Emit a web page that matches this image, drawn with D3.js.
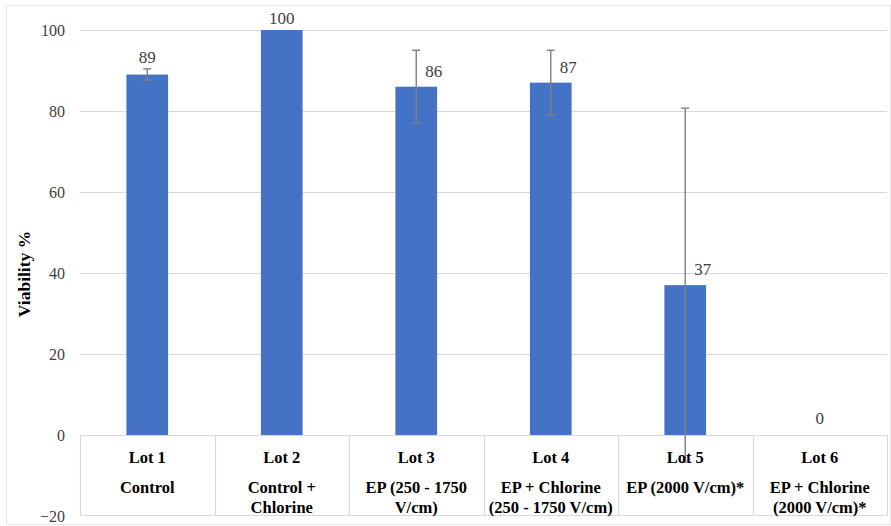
<!DOCTYPE html>
<html>
<head>
<meta charset="utf-8">
<script src="https://cdn.jsdelivr.net/npm/d3@7/dist/d3.min.js"></script>
<style>
  html, body { margin: 0; padding: 0; background: #fff; }
  svg { display: block; }
  svg text { font-family: "Liberation Serif", "Times New Roman", Tinos, "DejaVu Serif", serif; }
</style>
</head>
<body>
<svg id="chart" width="891" height="526"></svg>
<script>
const lots = ["Lot 1", "Lot 2", "Lot 3", "Lot 4", "Lot 5", "Lot 6"];
const descriptions = [
  ["Control"],
  ["Control +", "Chlorine"],
  ["EP (250 - 1750", "V/cm)"],
  ["EP + Chlorine", "(250 - 1750 V/cm)"],
  ["EP (2000 V/cm)*"],
  ["EP + Chlorine", "(2000 V/cm)*"]
];
const viability = [89, 100, 86, 87, 37, 0];
const errors = [1.4, 0, 9, 8, 43.7, 0];
const yTicks = [-20, 0, 20, 40, 60, 80, 100];

(function () {
const svg = d3.select("#chart");
const W = 891, H = 526;
const mLeft = 80, mRight = 887, mTop = 30, mBottom = 516;

svg.append("rect").attr("x", 0).attr("y", 0).attr("width", W).attr("height", H).attr("fill", "#fff");
svg.append("rect").attr("x", 6.5).attr("y", 5.5).attr("width", 884).attr("height", 519)
  .attr("fill", "none").attr("stroke", "#e6e6e6").attr("stroke-width", 1);

const x = d3.scaleBand().domain(lots).range([mLeft, mRight]).paddingInner(0).paddingOuter(0);
const y = d3.scaleLinear().domain([-20, 100]).range([mBottom, mTop]);

// gridlines
svg.append("g").selectAll("line").data(yTicks.filter(t => t > 0)).join("line")
  .attr("x1", mLeft).attr("x2", mRight)
  .attr("y1", d => Math.round(y(d)) + 0.5).attr("y2", d => Math.round(y(d)) + 0.5)
  .attr("stroke", "#d9d9d9").attr("stroke-width", 1.2);

// y axis tick labels
const yAxis = d3.axisLeft(y).tickValues(yTicks).tickSize(0).tickPadding(15).tickFormat(d3.format("d"));
const gy = svg.append("g").attr("transform", `translate(${mLeft},0)`).call(yAxis);
gy.attr("font-family", null);
gy.select(".domain").remove();
gy.selectAll("text").style("font-size", "16px").attr("fill", "#404040");

// y axis title
svg.append("text")
  .attr("transform", `translate(24,${(y(100) + y(-20)) / 2 + 1}) rotate(-90)`)
  .attr("text-anchor", "middle").attr("dominant-baseline", "central")
  .style("font-weight", "bold").style("font-size", "17.5px")
  .attr("fill", "#000").text("Viability %");

// bars
const bw = x.bandwidth() * 0.31;
svg.append("g").selectAll("rect").data(lots).join("rect")
  .attr("x", (d) => x(d) + (x.bandwidth() - bw) / 2)
  .attr("width", bw)
  .attr("y", (d, i) => y(viability[i]))
  .attr("height", (d, i) => y(0) - y(viability[i]))
  .attr("fill", "#4472C4");

// data table lines
const tg = svg.append("g").attr("stroke", "#d9d9d9").attr("stroke-width", 1.2);
tg.append("line").attr("x1", mLeft).attr("x2", mRight).attr("y1", y(0) + 0.5).attr("y2", y(0) + 0.5);
tg.append("line").attr("x1", mLeft).attr("x2", mRight).attr("y1", y(-20) - 0.5).attr("y2", y(-20) - 0.5);
const bounds = lots.map(d => x(d)).concat([mRight]);
tg.selectAll("line.v").data(bounds).join("line").attr("class", "v")
  .attr("x1", d => Math.round(d) + 0.5).attr("x2", d => Math.round(d) + 0.5)
  .attr("y1", y(0)).attr("y2", y(-20));

// error bars
const cap = 4;
const eg = svg.append("g").attr("stroke", "#808080").attr("stroke-width", 1.4);
lots.forEach((d, i) => {
  if (!errors[i]) return;
  const cx = x(d) + x.bandwidth() / 2;
  const y1 = y(viability[i] + errors[i]);
  const y2 = y(viability[i] - errors[i]);
  eg.append("line").attr("x1", cx).attr("x2", cx).attr("y1", y1).attr("y2", y2);
  eg.append("line").attr("x1", cx - cap).attr("x2", cx + cap).attr("y1", y1).attr("y2", y1);
  eg.append("line").attr("x1", cx - cap).attr("x2", cx + cap).attr("y1", y2).attr("y2", y2);
});

// data labels
svg.append("g").selectAll("text").data(lots).join("text")
  .style("font-size", "17px").attr("fill", "#404040")
  .attr("dy", "0.35em")
  .each(function (d, i) {
    const cx = x(d) + x.bandwidth() / 2;
    const el = d3.select(this);
    if (errors[i] > 5) {
      el.attr("x", cx + 9).attr("y", y(viability[i]) - 16).attr("text-anchor", "start");
    } else {
      const t = Math.min(y(viability[i]), y(viability[i] + errors[i]));
      el.attr("x", cx).attr("y", t - (viability[i] === 0 ? 17 : 12)).attr("text-anchor", "middle");
    }
  })
  .text((d, i) => viability[i]);

// category labels
const cg = svg.append("g").attr("fill", "#000").attr("text-anchor", "middle");
lots.forEach((d, i) => {
  const cx = x(d) + x.bandwidth() / 2;
  cg.append("text").attr("x", cx).attr("y", 457).attr("dy", "0.35em")
    .style("font-weight", "bold").style("font-size", "16.5px").text(d);
  descriptions[i].forEach((line, j) => {
    cg.append("text").attr("x", cx).attr("y", 487 + j * 20.5).attr("dy", "0.35em")
      .style("font-weight", "bold").style("font-size", "16.5px").text(line);
  });
});
})();
</script>
</body>
</html>
